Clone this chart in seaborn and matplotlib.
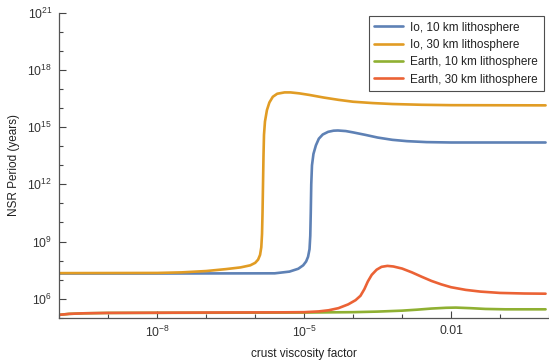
import numpy as np
import pandas as pd
import matplotlib
matplotlib.use("Agg")
import matplotlib.pyplot as plt
import seaborn as sns

# log10 values (x = crust viscosity factor, y = period in years)
io10_lx = [-10, -8, -5.6, -5.3, -5.12, -5.02, -4.96, -4.92, -4.89, -4.875, -4.865, -4.855, -4.84, -4.81,
           -4.76, -4.70, -4.62, -4.51, -4.4, -4.31, -4.15, -4.0, -3.75, -3.5, -3.2, -2.9, -2.5, -2.0, -0.07]
io10_ly = [7.32, 7.32, 7.33, 7.42, 7.57, 7.75, 7.95, 8.2, 8.6, 9.3, 10.5, 12.0, 13.0, 13.6,
           14.05, 14.4, 14.62, 14.76, 14.82, 14.83, 14.8, 14.73, 14.6, 14.46, 14.34, 14.27, 14.22, 14.2, 14.2]

io30_lx = [-10, -8, -7.5, -7, -6.6, -6.3, -6.1, -6.0, -5.94, -5.9, -5.875, -5.86, -5.85, -5.84, -5.83,
           -5.82, -5.8, -5.76, -5.71, -5.64, -5.55, -5.4, -5.28, -5.1, -4.9, -4.6, -4.3, -4.0, -3.6,
           -3.2, -2.6, -2.0, -0.07]
io30_ly = [7.34, 7.35, 7.38, 7.45, 7.55, 7.64, 7.75, 7.88, 8.05, 8.3, 8.7, 9.4, 10.5, 12.0, 13.5,
           14.6, 15.3, 15.9, 16.3, 16.6, 16.76, 16.83, 16.83, 16.78, 16.7, 16.56, 16.44, 16.34, 16.27,
           16.22, 16.18, 16.16, 16.15]

earth10_lx = [-10, -9.8, -9.5, -9, -5, -4, -3.5, -3.0, -2.7, -2.4, -2.1, -1.9, -1.6, -1.3, -0.9, -0.07]
earth10_ly = [5.15, 5.2, 5.23, 5.25, 5.27, 5.29, 5.32, 5.37, 5.42, 5.48, 5.52, 5.53, 5.5, 5.46, 5.44, 5.44]

earth30_lx = [-10, -9.8, -9.5, -9, -7, -5.5, -5, -4.7, -4.5, -4.3, -4.1, -3.95, -3.85, -3.77, -3.7,
              -3.62, -3.52, -3.42, -3.3, -3.18, -3.0, -2.8, -2.6, -2.4, -2.2, -2.0, -1.7, -1.4, -1.0,
              -0.5, -0.07]
earth30_ly = [5.15, 5.2, 5.23, 5.25, 5.27, 5.28, 5.29, 5.33, 5.39, 5.5, 5.7, 5.92, 6.15, 6.5, 6.9,
              7.25, 7.52, 7.67, 7.72, 7.69, 7.58, 7.38, 7.15, 6.93, 6.75, 6.6, 6.46, 6.37, 6.3,
              6.27, 6.26]

labels = ["Io, 10 km lithosphere", "Io, 30 km lithosphere",
          "Earth, 10 km lithosphere", "Earth, 30 km lithosphere"]
colors = ["#5E81B5", "#E19C24", "#8FB032", "#EB6235"]

frames = []
for lab, lx, ly in zip(labels, [io10_lx, io30_lx, earth10_lx, earth30_lx],
                       [io10_ly, io30_ly, earth10_ly, earth30_ly]):
    frames.append(pd.DataFrame({"x": 10.0 ** np.array(lx), "y": 10.0 ** np.array(ly), "series": lab}))
df = pd.concat(frames, ignore_index=True)

sns.set_style("ticks")
plt.rcParams['font.family'] = ['Liberation Sans', 'DejaVu Sans']
plt.rcParams['mathtext.fontset'] = 'custom'
plt.rcParams['mathtext.rm'] = 'Liberation Sans'
plt.rcParams['mathtext.it'] = 'Liberation Sans'
plt.rcParams['mathtext.default'] = 'regular'

fig = plt.figure(figsize=(5.49, 3.62), dpi=100)
ax = fig.add_axes([0.108, 0.1224, 0.892, 0.8417])

sns.lineplot(data=df, x="x", y="y", hue="series", hue_order=labels, palette=colors,
             sort=False, estimator=None, linewidth=1.9, ax=ax)

ax.set_xscale("log")
ax.set_yscale("log")
ax.set_xlim(1e-10, 10 ** -0.07)
ax.set_ylim(1e5, 1e21)

ax.set_xticks([1e-8, 1e-5, 1e-2])
ax.set_xticklabels([r"$10^{-8}$", r"$10^{-5}$", "0.01"])
ax.set_yticks([1e6, 1e9, 1e12, 1e15, 1e18, 1e21])
ax.set_yticklabels([r"$10^{6}$", r"$10^{9}$", r"$10^{12}$", r"$10^{15}$", r"$10^{18}$", r"$10^{21}$"])
ax.set_xticks([10.0 ** k for k in range(-10, 1)], minor=True)
ax.set_yticks([10.0 ** k for k in range(5, 22)], minor=True)
ax.xaxis.set_minor_formatter(matplotlib.ticker.NullFormatter())
ax.yaxis.set_minor_formatter(matplotlib.ticker.NullFormatter())

ax.tick_params(which="major", direction="in", length=5, width=0.8, color="#444444",
               labelsize=8.8, labelcolor="#333333", pad=5)
ax.tick_params(which="minor", direction="in", length=3, width=0.8, color="#444444")
for s in ["left", "bottom"]:
    ax.spines[s].set_color("#555555")
    ax.spines[s].set_linewidth(0.9)
sns.despine(ax=ax)

ax.set_xlabel("crust viscosity factor", fontsize=8.5, color="#222222", labelpad=6)
ax.set_ylabel("NSR Period (years)", fontsize=8.5, color="#222222", labelpad=5)

leg = ax.legend(loc="upper right", bbox_to_anchor=(0.99, 0.955), bbox_transform=fig.transFigure,
                fontsize=8.5, frameon=True, fancybox=False, handlelength=2.5,
                borderpad=0.45, labelspacing=0.45, handletextpad=0.6, borderaxespad=0)
leg.get_frame().set_edgecolor("#222222")
leg.get_frame().set_linewidth(0.8)
for t in leg.get_texts():
    t.set_color("#222222")

fig.savefig("out.png", dpi=100)
